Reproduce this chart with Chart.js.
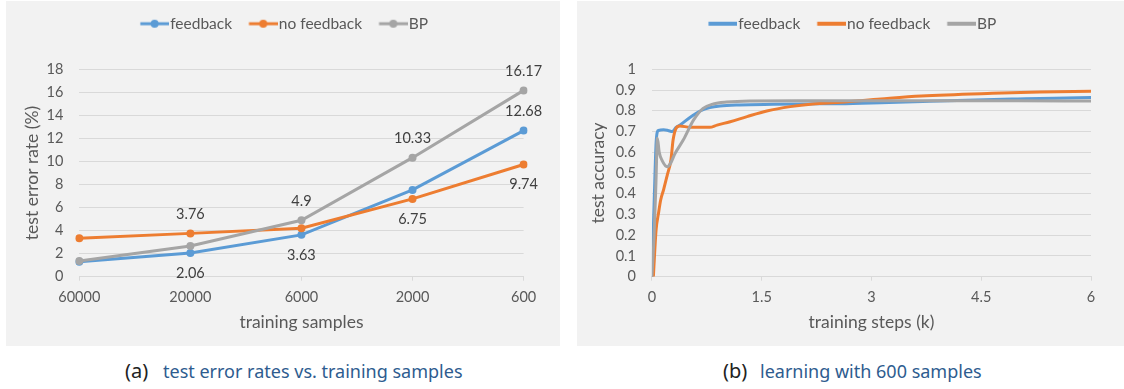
<!DOCTYPE html>
<html>
<head>
<meta charset="utf-8">
<script src="https://cdn.jsdelivr.net/npm/chart.js@4.4.0/dist/chart.umd.min.js"></script>
<style>
  html, body { margin: 0; padding: 0; background: #fff; }
  body { width: 1124px; height: 389px; position: relative; overflow: hidden; font-family: "Noto Sans", sans-serif; }
  .panel { position: absolute; top: 1px; height: 345px; background: #f2f2f2; }
  .panel canvas { position: absolute; left: 0; top: -2px; }
  .tag, .cap { position: absolute; top: 359px; line-height: 24px; white-space: nowrap; }
  .tag { font-size: 20px; color: #222; }
  .cap { font-size: 18px; color: #2e5c8f; }
</style>
</head>
<body>
<div class="panel" style="left:6px;width:554px"><canvas id="error-chart" width="554" height="347"></canvas></div>
<div class="panel" style="left:577px;width:547px"><canvas id="accuracy-chart" width="547" height="347"></canvas></div>
<div class="tag" style="left:125px">(a)</div>
<div class="cap" style="left:163px">test error rates vs. training samples</div>
<div class="tag" style="left:723px">(b)</div>
<div class="cap" style="left:760px">learning with 600 samples</div>
<script>
// (a) error rate vs. number of training samples
const sampleSizes = ['60000', '20000', '6000', '2000', '600'];
const errFeedback = [1.3, 2.06, 3.63, 7.53, 12.68];
const errNoFeedback = [3.33, 3.76, 4.2, 6.75, 9.74];
const errBP = [1.36, 2.66, 4.9, 10.33, 16.17];
// which points get a value label, and on which side
const lblFeedback = [null, 'below', 'below', null, 'above'];
const lblNoFeedback = [null, 'above', null, 'below', 'below'];
const lblBP = [null, null, 'above', 'above', 'above'];

// (b) test accuracy vs. training steps (k), 600 samples
const fbSteps = [0, 0.03, 0.06, 0.09, 0.16, 0.22, 0.28, 0.33, 0.38, 0.52, 0.66, 0.79, 0.93, 1.2, 1.66, 2.1, 2.57, 3.13, 3.7, 4.3, 5, 5.5, 6];
const fbAcc = [0, 0.35, 0.66, 0.705, 0.708, 0.705, 0.70, 0.72, 0.73, 0.768, 0.799, 0.815, 0.823, 0.828, 0.831, 0.833, 0.834, 0.839, 0.845, 0.851, 0.857, 0.861, 0.864];
const nfSteps = [0.02, 0.057, 0.09, 0.12, 0.16, 0.21, 0.26, 0.29, 0.33, 0.38, 0.52, 0.79, 0.89, 1.07, 1.3, 1.57, 1.89, 2.2, 2.57, 3.13, 3.68, 4.65, 5.3, 6];
const nfAcc = [0, 0.225, 0.306, 0.37, 0.42, 0.49, 0.563, 0.66, 0.715, 0.727, 0.72, 0.72, 0.731, 0.747, 0.772, 0.799, 0.82, 0.833, 0.841, 0.857, 0.871, 0.884, 0.89, 0.894];
const bpSteps = [0, 0.03, 0.055, 0.075, 0.1, 0.14, 0.21, 0.26, 0.31, 0.43, 0.57, 0.7, 0.84, 1.02, 1.34, 2, 3, 4, 5, 6];
const bpAcc = [0, 0.2, 0.45, 0.667, 0.6, 0.56, 0.53, 0.55, 0.59, 0.66, 0.756, 0.812, 0.833, 0.842, 0.847, 0.848, 0.848, 0.848, 0.848, 0.847];

const seriesNames = ['feedback', 'no feedback', 'BP'];

const BLUE = '#5B9BD5', ORANGE = '#ED7D31', GRAY = '#A5A5A5';
const GRID = '#D9D9D9', TEXT = '#595959';

Chart.defaults.font.family = 'Lato, "Open Sans", sans-serif';
Chart.defaults.color = TEXT;

// little line (+ dot) used as legend marker
function legendMark(color, withDot) {
    const c = document.createElement('canvas');
    c.width = 35; c.height = 10;
    const g = c.getContext('2d');
    g.strokeStyle = color;
    g.lineWidth = withDot ? 3 : 4;
    g.beginPath(); g.moveTo(6.4, 5); g.lineTo(35, 5); g.stroke();
    if (withDot) {
        g.fillStyle = color;
        g.beginPath(); g.arc(20.7, 5, 4, 0, Math.PI * 2); g.fill();
    }
    return c;
}

function legendOptions(marks) {
    return {
        position: 'top',
        labels: {
            usePointStyle: true,
            pointStyleWidth: 22,
            padding: 17,
            color: TEXT,
            font: { size: 15.5 },
            sort: (a, b) => a.datasetIndex - b.datasetIndex,
            generateLabels(chart) {
                const items = Chart.defaults.plugins.legend.labels.generateLabels(chart);
                items.forEach(it => { it.pointStyle = marks[it.datasetIndex]; });
                return items;
            }
        }
    };
}

// empty title used only as a gap between legend and plot
const spacer = { display: true, text: '', weight: 500, padding: { top: 26.8, bottom: 0 }, font: { size: 1, lineHeight: 1 } };

function xAxis(title, extra) {
    return Object.assign({
        grid: { drawOnChartArea: false, drawTicks: true, tickLength: 4, color: GRID },
        border: { color: GRID },
        ticks: { padding: 7.6, font: { size: 14.5 }, color: TEXT, maxRotation: 0 },
        title: { display: true, text: title, color: TEXT, font: { size: 17.5 }, padding: { top: 0, bottom: 12.8 } },
        afterFit: s => { s.height = 69.3; }
    }, extra);
}

function yAxis(title, min, max, step, width, titlePad) {
    return {
        min: min, max: max,
        ticks: { stepSize: step, padding: 16, font: { size: 14.5 }, color: TEXT, callback: v => String(+v.toFixed(2)) },
        grid: { color: GRID, drawTicks: false },
        border: { display: false },
        title: { display: true, text: title, color: TEXT, font: { size: 17.5 }, padding: { top: titlePad, bottom: 0 } },
        afterFit: s => { s.width = width; }
    };
}

const pointLabels = {
    id: 'pointLabels',
    afterDatasetsDraw(chart) {
        const ctx = chart.ctx;
        chart.data.datasets.forEach((ds, i) => {
            if (!ds.labelPos) return;
            const meta = chart.getDatasetMeta(i);
            ctx.save();
            ctx.font = '14.5px Lato';
            ctx.fillStyle = '#404040';
            ctx.textAlign = 'center';
            ctx.textBaseline = 'middle';
            meta.data.forEach((pt, j) => {
                const pos = ds.labelPos[j];
                if (!pos) return;
                ctx.fillText(String(ds.data[j]), pt.x, pt.y + (pos === 'above' ? -19 : 20));
            });
            ctx.restore();
        });
    }
};

function errSeries(label, data, color, labelPos, order) {
    return {
        label, data, labelPos, order,
        borderColor: color, backgroundColor: color,
        borderWidth: 3, tension: 0,
        pointRadius: 4, pointBorderWidth: 0, pointBackgroundColor: color
    };
}

new Chart(document.getElementById('error-chart'), {
    type: 'line',
    data: {
        labels: sampleSizes,
        datasets: [
            errSeries(seriesNames[0], errFeedback, BLUE, lblFeedback, 2),
            errSeries(seriesNames[1], errNoFeedback, ORANGE, lblNoFeedback, 1),
            errSeries(seriesNames[2], errBP, GRAY, lblBP, 0)
        ]
    },
    options: {
        responsive: false, animation: false,
        layout: { padding: { left: 39, right: 36.4, top: 0, bottom: 0 } },
        plugins: {
            legend: legendOptions([legendMark(BLUE, true), legendMark(ORANGE, true), legendMark(GRAY, true)]),
            title: spacer,
            tooltip: { enabled: false }
        },
        scales: {
            x: xAxis('training samples', { type: 'category' }),
            y: yAxis('test error rate (%)', 0, 18, 2, 34.3, -23.5)
        }
    },
    plugins: [pointLabels]
});

function accSeries(label, steps, acc, color, order) {
    return {
        label, order,
        data: steps.map((s, i) => ({ x: s, y: acc[i] })),
        borderColor: color, backgroundColor: color,
        borderWidth: 3, pointRadius: 0,
        cubicInterpolationMode: 'monotone'
    };
}

new Chart(document.getElementById('accuracy-chart'), {
    type: 'line',
    data: {
        datasets: [
            accSeries(seriesNames[0], fbSteps, fbAcc, BLUE, 2),
            accSeries(seriesNames[1], nfSteps, nfAcc, ORANGE, 1),
            accSeries(seriesNames[2], bpSteps, bpAcc, GRAY, 0)
        ]
    },
    options: {
        responsive: false, animation: false,
        layout: { padding: { left: 37, right: 33, top: 0, bottom: 0 } },
        plugins: {
            legend: legendOptions([legendMark(BLUE, false), legendMark(ORANGE, false), legendMark(GRAY, false)]),
            title: spacer,
            tooltip: { enabled: false }
        },
        scales: {
            x: xAxis('training steps (k)', { type: 'linear', min: 0, max: 6, ticks: { stepSize: 1.5, padding: 7.6, font: { size: 14.5 }, color: TEXT, maxRotation: 0 } }),
            y: yAxis('test accuracy', 0, 1, 0.1, 37.9, -26.5)
        }
    }
});
</script>
</body>
</html>
